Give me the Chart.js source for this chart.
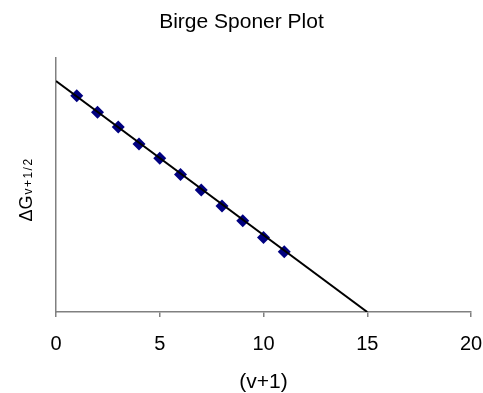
<!DOCTYPE html>
<html>
<head>
<meta charset="utf-8">
<script src="https://cdn.jsdelivr.net/npm/chart.js@4/dist/chart.umd.min.js"></script>
<style>
  html, body { margin: 0; padding: 0; background: #fff; }
  #wrap { width: 483px; height: 393px; }
</style>
</head>
<body>
<div id="wrap"><canvas id="birgeChart" width="483" height="393"></canvas></div>
<script>
// Data
const vPlus1 = [1, 2, 3, 4, 5, 6, 7, 8, 9, 10, 11];
const deltaG = [937, 865, 801, 728, 666, 596, 528, 459, 395, 323, 261];
// fitted line ends
const fitX = [0, 15];
const fitY = [1000, 0];
const xTicks = [0, 5, 10, 15, 20];

const fontFamily = "'Liberation Sans', Arial, sans-serif";

// y-axis title with subscript, drawn as text
const yTitlePlugin = {
    id: 'yTitle',
    afterDraw(chart) {
        const { ctx, chartArea } = chart;
        const cy = (chartArea.top + chartArea.bottom) / 2 + 5;
        ctx.save();
        ctx.translate(31.5, cy);
        ctx.rotate(-Math.PI / 2);
        ctx.fillStyle = '#000';
        ctx.textBaseline = 'alphabetic';
        const main = '\u0394G';
        const sub = 'v+1/2';
        ctx.font = '18px ' + fontFamily;
        const w1 = ctx.measureText(main).width;
        ctx.font = '12px ' + fontFamily;
        ctx.letterSpacing = '1.5px';
        const w2 = ctx.measureText(sub).width;
        const x0 = -(w1 + w2) / 2;
        ctx.fillText(sub, x0 + w1 + 1, 0.5);
        ctx.letterSpacing = '0px';
        ctx.font = '18px ' + fontFamily;
        ctx.fillText(main, x0, 0);
        ctx.restore();
    }
};

const ctx = document.getElementById('birgeChart').getContext('2d');
const birgeChart = new Chart(ctx, {
    type: 'scatter',
    data: {
        datasets: [
            {
                label: 'fit',
                type: 'line',
                data: fitX.map((x, i) => ({ x: x, y: fitY[i] })),
                borderColor: '#000',
                borderWidth: 2,
                pointRadius: 0,
                fill: false,
                order: 0,
            },
            {
                label: 'data',
                data: vPlus1.map((x, i) => ({ x: x, y: deltaG[i] })),
                pointStyle: 'rectRot',
                pointRadius: 6.5,
                backgroundColor: '#000080',
                borderColor: '#000080',
                borderWidth: 0,
                order: 1,
            }
        ]
    },
    options: {
        responsive: false,
        animation: false,
        layout: { padding: { left: 12, right: 12, top: 0, bottom: 0 } },
        plugins: {
            legend: { display: false },
            tooltip: { enabled: false },
            title: {
                display: true,
                text: 'Birge Sponer Plot',
                color: '#000',
                font: { family: fontFamily, size: 21, weight: 'normal', lineHeight: 1 },
                padding: { top: 12, bottom: 25 },
            }
        },
        scales: {
            x: {
                type: 'linear',
                min: 0,
                max: 20,
                afterBuildTicks: (axis) => { axis.ticks = xTicks.map(v => ({ value: v })); },
                grid: { drawOnChartArea: false, drawTicks: true, tickLength: 5, color: '#808080', lineWidth: 1.5 },
                border: { color: '#808080', width: 1.5 },
                ticks: { color: '#000', font: { family: fontFamily, size: 20, lineHeight: 2.75 }, padding: 0, maxRotation: 0 },
                title: {
                    display: true,
                    text: '(v+1)',
                    color: '#000',
                    font: { family: fontFamily, size: 21, lineHeight: 1 },
                    padding: { top: 0, bottom: 0 },
                }
            },
            y: {
                type: 'linear',
                min: 0,
                max: 1100,
                grid: { display: false },
                border: { color: '#808080', width: 1.5 },
                ticks: { display: false },
                afterFit: (axis) => { axis.width = 44; },
            }
        }
    },
    plugins: [yTitlePlugin]
});
</script>
</body>
</html>
